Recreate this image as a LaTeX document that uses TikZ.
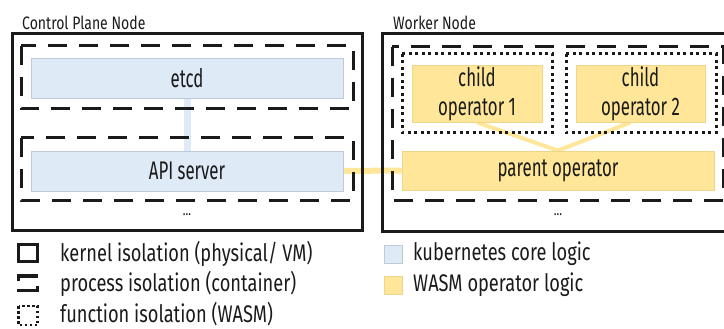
\documentclass[tikz,border=0pt]{standalone}
\usepackage{fontspec}
\setmainfont{Fira Sans}[FakeStretch=0.76]
\newfontfamily\boxfont{Fira Sans}[FakeStretch=0.66]
\newfontfamily\titlefont{Fira Sans}[FakeStretch=0.78]
\definecolor{kblue}{HTML}{DEEAF6}
\definecolor{kblueb}{HTML}{BCCADA}
\definecolor{wyel}{HTML}{FFE699}
\definecolor{wyelb}{HTML}{EED58A}
\definecolor{ink}{HTML}{1A1A1A}
\pgfdeclarelayer{bg}
\pgfsetlayers{bg,main}
\begin{document}
\begin{tikzpicture}[x=1pt,y=-1pt,
  kernelbox/.style={draw=ink,line width=3pt},
  procbox/.style={draw=ink,line width=3pt, dash pattern=on 19pt off 12pt},
  funcbox/.style={draw=ink,line width=3pt, dash pattern=on 3pt off 3.5pt},
  core/.style={fill=kblue, draw=kblueb, line width=0.8pt, inner sep=0pt, text=ink, font=\boxfont\fontsize{25.5}{29}\selectfont, align=center},
  wasm/.style={core, fill=wyel, draw=wyelb},
  title/.style={anchor=west, text=ink, inner sep=0pt, font=\titlefont\fontsize{18}{20}\selectfont},
  legendtext/.style={anchor=west, text=ink, inner sep=0pt, font=\fontsize{24}{26}\selectfont},
  ellip/.style={text=ink, inner sep=0pt, font=\fontsize{15}{16}\selectfont},
  bluelink/.style={draw=kblue, line width=7pt},
  yellink/.style={draw=wyel, line width=6pt},
  childlink/.style={draw=wyel, line width=4pt}
]
\useasboundingbox (0,0) rectangle (724,329);
\clip (0,0) rectangle (724,329);

% titles
\node[title] (cpt) at (22,23) {Control Plane Node};
\node[title] (wnt) at (393,23) {Worker Node};

% core nodes
\node[core, minimum width=312pt, minimum height=40pt] (etcd) at (187,78) {etcd};
\node[core, minimum width=312pt, minimum height=40pt] (api) at (187,171) {API server};
\node[wasm, minimum width=130pt, minimum height=57pt] (c1) at (477,93.5) {child\\operator 1};
\node[wasm, minimum width=129pt, minimum height=57pt] (c2) at (640.5,93.5) {child\\operator 2};
\node[wasm, minimum width=312pt, minimum height=39pt] (parent) at (558,170.5) {parent operator};

% connectors
\begin{pgfonlayer}{bg}
\draw[bluelink] (etcd.south) -- (api.north);
\draw[yellink] (api.east) -- (parent.west);
\draw[childlink] (c1.south) -- (parent.north);
\draw[childlink] ([xshift=-10pt]c2.south) -- (parent.north);
\end{pgfonlayer}

% kernel isolation
\draw[kernelbox] (12,34) rectangle (362,230);
\draw[kernelbox] (382,34) rectangle (745,231);
% process isolation
\draw[procbox] (21,46) rectangle (353,109);
\draw[procbox] (21,138) rectangle (353,200);
\draw[procbox] (392,47) rectangle (723,200);
% function isolation
\draw[funcbox] (402,54) rectangle (552,133);
\draw[funcbox] (566,54) rectangle (716,133);

\node[ellip] (e1) at (187,215) {...};
\node[ellip] (e2) at (558,215) {...};

% legend
\draw[draw=ink, line width=3.5pt] (18.5,244.5) rectangle (37.5,261.5);
\draw[draw=ink, line width=3.5pt] (18.5,281) -- (18.5,276) -- (38,276);
\draw[draw=ink, line width=3.5pt] (17,290.5) -- (37.5,290.5) -- (37.5,286);
\draw[draw=ink, line width=2.5pt, dash pattern=on 2.5pt off 2.5pt] (18.5,306) rectangle (37.5,325);
\node[legendtext] (l1) at (60,254) {kernel isolation (physical/ VM)};
\node[legendtext] (l2) at (60,284) {process isolation (container)};
\node[legendtext] (l3) at (60,314) {function isolation (WASM)};

\draw[fill=kblue, draw=kblueb, line width=0.8pt] (384,245) rectangle (402,263);
\draw[fill=wyel, draw=wyelb, line width=0.8pt] (384,276) rectangle (402,294);
\node[legendtext] (l4) at (413,254) {kubernetes core logic};
\node[legendtext] (l5) at (413,285) {WASM operator logic};
\end{tikzpicture}
\end{document}
